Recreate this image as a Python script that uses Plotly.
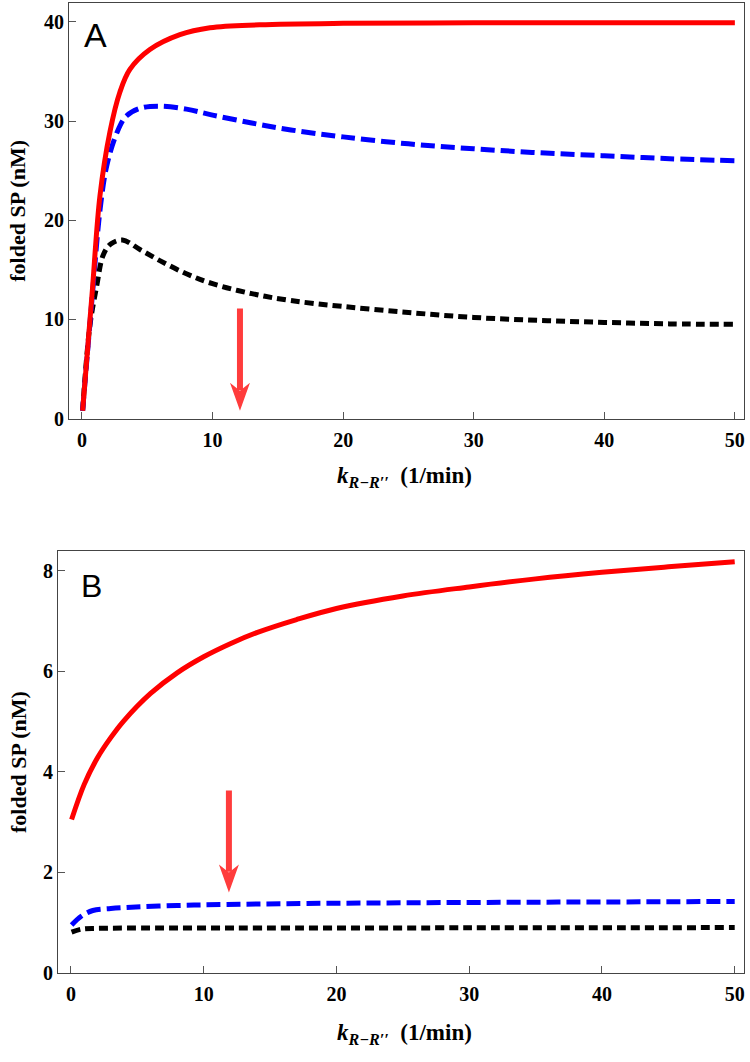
import plotly.graph_objects as go

W, H = 750, 1062

# ---------------- data ----------------
kA_red = [0.05, 0.4, 0.8, 1.38, 2.14, 2.9, 3.67, 5.2, 7.5, 9.8, 13.6, 20, 30, 40, 50]
redA = [0.8, 6.5, 13.0, 22.5, 28.9, 32.9, 35.2, 37.2, 38.7, 39.4, 39.7, 39.85, 39.9, 39.9, 39.9]

kA_blue = [0.05, 0.4, 0.8, 1.38, 1.9, 2.7, 3.4, 4.5, 5.97, 8, 10, 13, 16, 20, 25, 30, 35, 40, 45, 50]
blueA = [0.8, 6.3, 12.5, 21.0, 25.5, 28.9, 30.5, 31.3, 31.5, 31.2, 30.6, 29.8, 29.1, 28.4, 27.7, 27.2, 26.8, 26.5, 26.2, 26.0]

kA_black = [0.05, 0.6, 1.12, 1.63, 2.2, 3.1, 4.5, 6, 8, 10, 13, 16, 20, 25, 30, 35, 40, 45, 50]
blackA = [0.8, 9.3, 13.3, 16.5, 17.6, 18.0, 17.0, 15.9, 14.6, 13.6, 12.6, 11.9, 11.3, 10.7, 10.2, 9.9, 9.7, 9.55, 9.5]

kB_red = [0.05, 1, 2, 3, 4, 6, 8, 10, 12, 14, 17, 20, 25, 30, 35, 40, 45, 50]
redB = [3.05, 3.75, 4.28, 4.68, 5.02, 5.56, 5.97, 6.29, 6.55, 6.77, 7.03, 7.25, 7.5, 7.68, 7.84, 7.97, 8.08, 8.18]

kB_blue = [0.05, 0.8, 1.65, 3, 4.2, 8, 11.7, 17.7, 30, 40, 50]
blueB = [0.95, 1.13, 1.24, 1.28, 1.30, 1.34, 1.36, 1.38, 1.40, 1.41, 1.42]

kB_black = [0.05, 0.8, 2, 10, 30, 50]
blackB = [0.81, 0.87, 0.885, 0.89, 0.895, 0.90]

xticks = [0, 10, 20, 30, 40, 50]
yticksA = [0, 10, 20, 30, 40]
yticksB = [0, 2, 4, 6, 8]

arrow_x = [12.1, 11.9]
arrow_top = [11.1, 3.63]
arrow_tip = [0.8, 1.6]

# ---------------- layout geometry ----------------
A_x = [69 / W, 745 / W]
A_y = [1 - 423 / H, 1 - 3 / H]
B_x = [58 / W, 745 / W]
B_y = [1 - 983 / H, 1 - 557 / H]
A_xr = [-1.0, 50.7]
A_yr = [0, 41.9]
B_xr = [-0.98, 50.7]
B_yr = [0, 8.39]

RED = "#ff0000"
BLUE = "#0000ff"
BLACK = "#000000"
LW = 5

fig = go.Figure()

def add(k, v, color, dash, xa, ya):
    fig.add_trace(go.Scatter(x=k, y=v, mode="lines", xaxis=xa, yaxis=ya,
                             line=dict(color=color, width=LW, dash=dash, shape="spline", smoothing=1.0),
                             showlegend=False, hoverinfo="skip"))

add(kA_black, blackA, BLACK, "9px,5px", "x", "y")
add(kA_blue, blueA, BLUE, "14px,6px", "x", "y")
add(kA_red, redA, RED, "solid", "x", "y")
add(kB_black, blackB, BLACK, "9px,5px", "x2", "y2")
add(kB_blue, blueB, BLUE, "14px,6px", "x2", "y2")
add(kB_red, redB, RED, "solid", "x2", "y2")

tickfont = dict(family="Liberation Serif", size=20, color="black", weight="bold")
axcommon = dict(showline=True, mirror=True, linecolor="#444", linewidth=1,
                ticks="inside", ticklen=7, tickcolor="#555", tickwidth=1,
                showgrid=False, zeroline=False, tickfont=tickfont, fixedrange=True)

fig.update_layout(
    width=W, height=H, margin=dict(l=0, r=0, t=0, b=0),
    paper_bgcolor="white", plot_bgcolor="white",
    xaxis=dict(domain=A_x, range=A_xr, tickvals=xticks, anchor="y", ticklabelstandoff=3, **axcommon),
    yaxis=dict(domain=A_y, range=A_yr, tickvals=yticksA, anchor="x", **axcommon),
    xaxis2=dict(domain=B_x, range=B_xr, tickvals=xticks, anchor="y2", ticklabelstandoff=3, **axcommon),
    yaxis2=dict(domain=B_y, range=B_yr, tickvals=yticksB, anchor="x2", **axcommon),
)

# arrows
ARROW = "#ff3c3c"
panels = [("x", "y", A_y, A_yr), ("x2", "y2", B_y, B_yr)]
shapes = []
for i, (xa, ya, dom, rng) in enumerate(panels):
    ppu = (dom[1] - dom[0]) * H / (rng[1] - rng[0])
    shaft_end = arrow_tip[i] + 21 / ppu
    shapes.append(dict(type="line", xref=xa, yref=ya, x0=arrow_x[i], x1=arrow_x[i],
                       y0=arrow_top[i], y1=shaft_end, line=dict(color=ARROW, width=6)))
    shapes.append(dict(type="path", xref=xa, yref=ya, xsizemode="pixel", ysizemode="pixel",
                       xanchor=arrow_x[i], yanchor=arrow_tip[i],
                       path="M -10 28 L 0 0 L 10 28 L 0 20 Z",
                       fillcolor=ARROW, line=dict(width=0)))
fig.update_layout(shapes=shapes)

ytitle_font = dict(family="Liberation Serif", size=22, color="black", weight="bold")
xtitle = "<i>k</i><sub><i>R\u2212R\u2032\u2032</i></sub>  (1/min)"
xtitle_font = dict(family="Liberation Serif", size=23, color="black", weight="bold")
annots = [
    dict(text="A", x=82 / W, y=1 - 35 / H, xref="paper", yref="paper", xanchor="left", yanchor="middle",
         showarrow=False, font=dict(family="Liberation Sans", size=34, color="black")),
    dict(text="B", x=79 / W, y=1 - 592 / H, xref="paper", yref="paper", xanchor="left", yanchor="middle",
         showarrow=False, font=dict(family="Liberation Sans", size=32, color="black")),
    dict(text="folded SP (nM)", x=18 / W, y=1 - 213 / H, xref="paper", yref="paper", textangle=-90,
         xanchor="center", yanchor="middle", showarrow=False, font=ytitle_font),
    dict(text="folded SP (nM)", x=18 / W, y=1 - 770 / H, xref="paper", yref="paper", textangle=-90,
         xanchor="center", yanchor="middle", showarrow=False, font=ytitle_font),
    dict(text=xtitle, x=405 / W, y=1 - 482 / H, xref="paper", yref="paper",
         xanchor="center", yanchor="middle", showarrow=False, font=xtitle_font),
    dict(text=xtitle, x=405 / W, y=1 - 1045 / H, xref="paper", yref="paper",
         xanchor="center", yanchor="middle", showarrow=False, font=xtitle_font),
]
fig.update_layout(annotations=annots)

fig.write_html("out.html", config={"displayModeBar": False},
               post_script="document.body.style.margin='0';document.body.style.overflow='hidden';")
